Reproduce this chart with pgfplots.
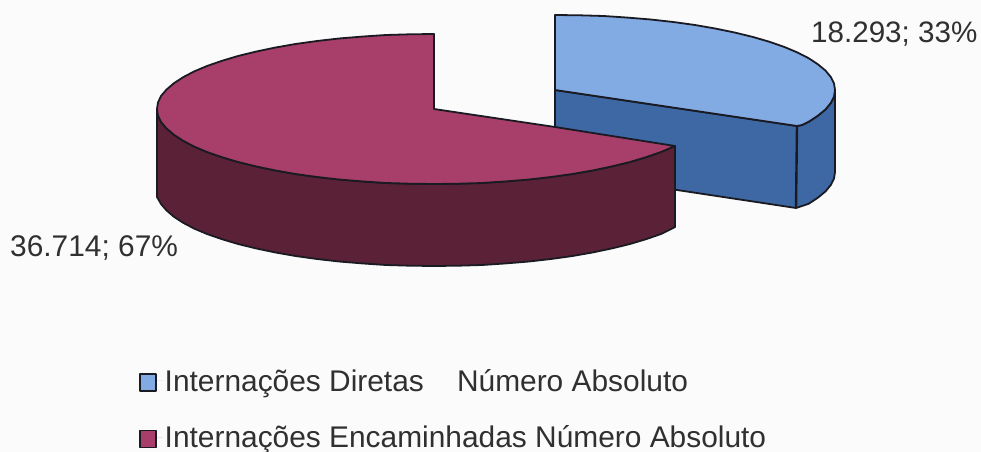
\documentclass[border=0pt]{standalone}
\usepackage{pgfplots}
\pgfplotsset{compat=1.18}
\usepackage{fontspec}
\setmainfont{Liberation Sans}
\definecolor{bg}{HTML}{FBFBFB}
\definecolor{bluetop}{HTML}{82ABE3}
\definecolor{blueside}{HTML}{3E68A4}
\definecolor{redtop}{HTML}{A83F6A}
\definecolor{redside}{HTML}{5B2237}
\definecolor{edge}{HTML}{1A1A22}
\definecolor{txt}{HTML}{303030}
\begin{document}
\begin{tikzpicture}
\clip[use as bounding box] (0,0) rectangle (981bp,452bp);
\begin{axis}[
  anchor=south west, at={(0,0)},
  scale only axis, width=981bp, height=452bp,
  xmin=0, xmax=981, ymin=0, ymax=452, y dir=reverse,
  hide axis, clip=false,
  legend cell align=left,
  legend style={at={(axis cs:139,367)}, anchor=north west, draw=none, fill=none,
    font=\fontsize{30}{32}\selectfont\color{txt}, row sep=29pt, inner sep=0pt, outer sep=0pt},
  legend image code/.code={\path[draw=none] (0bp,0bp) -- (23bp,0bp);\draw[#1, line width=1.5bp, draw=edge] (0bp,-10.5bp) rectangle (16bp,6.5bp);},
  every axis plot/.append style={line width=1.8bp, draw=edge, line join=round},
]
% background
\addplot[forget plot, draw=none, fill=bg] coordinates {(0,0)(981,0)(981,452)(0,452)} --cycle;
% blue slice: side
\addplot[forget plot, fill=blueside] coordinates {
 (555,90)(555,172)(677,190)(796,208)(802,206)(808.8,203.7)(818,197.6)(825.5,191.4)(830.8,185)(834,178.5)(835,172)
 (835,90)(834,96.5)(830.8,103)(825.5,109.4)(818,115.6)(808.8,121.7)(802,125)(797,126)} --cycle;
\addplot[forget plot, line width=2.4bp] coordinates {(797,126)(796,208)};
% blue slice: top
\addplot[fill=bluetop] coordinates {
 (555,15)(579.4,15.3)(603.6,16)(627.5,17.6)(650.8,19.5)(673.3,22)(695,25)(715.6,28.6)(735,32.6)(753,37)(769.5,41.8)
 (784.4,47)(797.5,52.5)(808.8,58.3)(818,64.4)(825.5,70.6)(830.8,77)(834,83.5)(835,90)(834,96.5)(830.8,103)(825.5,109.4)
 (818,115.6)(808.8,121.7)(802,125)(797,126)(555,90)} --cycle;
\addlegendentry{Internações Diretas\ \ \ \ Número Absoluto}
% red slice: side
\addplot[forget plot, fill=redside] coordinates {
 (157,109)(157,197)(161,204)(166.5,210.4)(173.7,216.6)(183,222.7)(194,228.5)(207,234)(222,239.2)(238,244)(256,248.4)
 (275,252.4)(295.5,256)(317,259)(339,261.5)(362,263.4)(386,265)(410,265.7)(434,266)(458,265.7)(482,265)(506,263.4)
 (529,261.5)(551,259)(572.5,256)(593,252.4)(612,248.4)(630,244)(646,239.2)(661,234)(675,227)
 (675,146)(661,152)(646,157.2)(630,162)(612,166.4)(593,170.4)(572.5,174)(551,177)(529,179.5)(506,181.4)(482,183)(458,183.7)
 (434,184)(410,183.7)(386,183)(362,181.4)(339,179.5)(317,177)(295.5,174)(275,170.4)(256,166.4)(238,162)(222,157.2)
 (207,152)(194,146.5)(183,140.7)(173.7,134.6)(166.5,128.4)(161,122)(158,115.5)} --cycle;
% red slice: top
\addplot[fill=redtop] coordinates {
 (434,34)(410,34.3)(386,35)(362,36.6)(339,38.5)(317,41)(295.5,44)(275,47.6)(256,51.6)(238,56)(222,60.8)(207,66)(194,71.5)
 (183,77.3)(173.7,83.4)(166.5,89.6)(161,96)(158,102.5)(157,109)(158,115.5)(161,122)(166.5,128.4)(173.7,134.6)(183,140.7)
 (194,146.5)(207,152)(222,157.2)(238,162)(256,166.4)(275,170.4)(295.5,174)(317,177)(339,179.5)(362,181.4)(386,183)(410,183.7)
 (434,184)(458,183.7)(482,183)(506,181.4)(529,179.5)(551,177)(572.5,174)(593,170.4)(612,166.4)(630,162)(646,157.2)(661,152)(675,146)
 (555,127)(434,109)} --cycle;
\addlegendentry{Internações Encaminhadas Número Absoluto}
% data labels
\node[anchor=base west, inner sep=0pt, text=txt, font=\fontsize{29.7}{30}\selectfont] at (axis cs:811,43) {18.293; 33\%};
\node[anchor=base west, inner sep=0pt, text=txt, font=\fontsize{30}{30}\selectfont] at (axis cs:10,256) {36.714; 67\%};
\end{axis}
\end{tikzpicture}
\end{document}
